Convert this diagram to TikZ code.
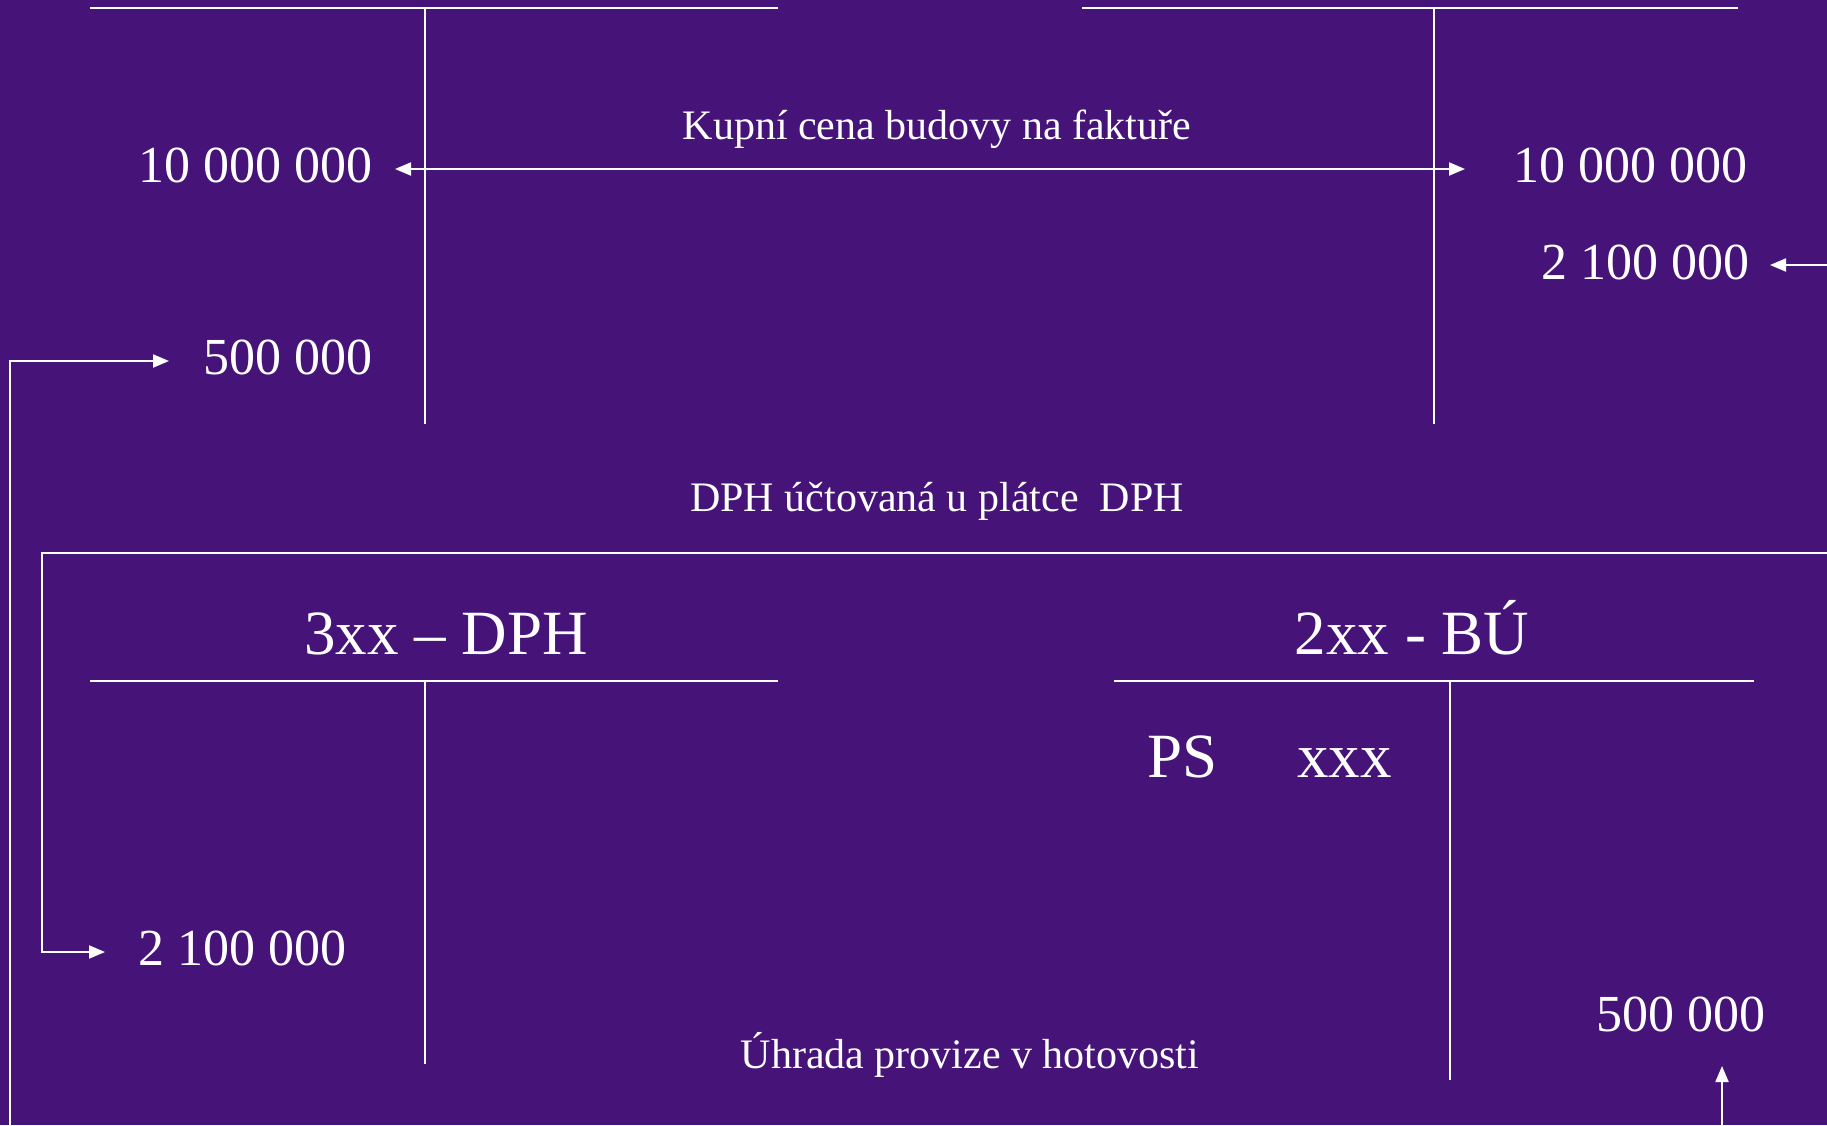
\documentclass[tikz,border=0pt]{standalone}
\usepackage{fontspec}
\setmainfont{Liberation Serif}
\usetikzlibrary{arrows.meta}
\definecolor{bgpurple}{RGB}{70,20,120}
\tikzset{
  tline/.style={draw=white, line width=2pt},
  vline/.style={draw=white, line width=1.6pt},
  conn/.style={draw=white, line width=2pt, -{Triangle[length=16pt,width=13pt]}},
  connboth/.style={draw=white, line width=2pt, {Triangle[length=16pt,width=13pt]}-{Triangle[length=16pt,width=13pt]}},
  amount/.style={text=white, inner sep=0pt, font=\fontsize{52}{60}\selectfont},
  title/.style={text=white, inner sep=0pt, font=\fontsize{63}{72}\selectfont},
  caption/.style={text=white, inner sep=0pt, font=\fontsize{42}{48}\selectfont},
}
\begin{document}
\begin{tikzpicture}[x=1pt,y=-1pt]
\fill[bgpurple] (0,0) rectangle (1827,1125);
\useasboundingbox (0,0) rectangle (1827,1125);

% T-accounts
\draw[tline] (90,8) -- (778,8);
\draw[vline] (425,8) -- (425,424);
\draw[tline] (1082,8) -- (1738,8);
\draw[vline] (1434,8) -- (1434,424);
\draw[tline] (90,681) -- (778,681);
\draw[vline] (425,681) -- (425,1064);
\draw[tline] (1114,681) -- (1754,681);
\draw[vline] (1450,681) -- (1450,1080);

% texts
\node[amount, anchor=base east] (l1) at (373,182) {10 000 000};
\node[amount, anchor=base east] (l2) at (373,374) {500 000};
\node[amount, anchor=base west] (r1) at (1513,182) {10 000 000};
\node[amount, anchor=base east] (r2) at (1750,279) {2 100 000};
\node[caption, anchor=base] (kup) at (937,139) {Kupní cena budovy na faktuře};
\node[caption, anchor=base] (dph) at (937,511) {DPH účtovaná u plátce\ \ DPH};
\node[title, anchor=base] (t3) at (446,654) {3xx – DPH};
\node[title, anchor=base] (t2) at (1412,654) {2xx - BÚ};
\node[title, anchor=base west] (ps) at (1147,777) {PS};
\node[title, anchor=base west] (xxx) at (1297,777) {xxx};
\node[amount, anchor=base west] (d2) at (138,965) {2 100 000};
\node[amount, anchor=base east] (b5) at (1766,1031) {500 000};
\node[caption, anchor=base] (uhr) at (970,1068) {Úhrada provize v hotovosti};

% connector endpoints
\coordinate (kL) at (395,169);
\coordinate (kR) at (1465,169);
\coordinate (r2s) at (1827,265);
\coordinate (r2t) at (1770,265);
\coordinate (c1s) at (10,1125);
\coordinate (c1a) at (10,361);
\coordinate (c1t) at (169,361);
\coordinate (c2s) at (1827,553);
\coordinate (c2a) at (42,553);
\coordinate (c2b) at (42,952);
\coordinate (c2t) at (105,952);
\coordinate (c3s) at (1722,1125);
\coordinate (c3t) at (1722,1066);

% connectors
\draw[connboth] (kL) -- (kR);
\draw[conn] (r2s) -- (r2t);
\draw[conn] (c1s) -- (c1a) -- (c1t);
\draw[conn] (c2s) -- (c2a) -- (c2b) -- (c2t);
\draw[conn] (c3s) -- (c3t);
\end{tikzpicture}
\end{document}
